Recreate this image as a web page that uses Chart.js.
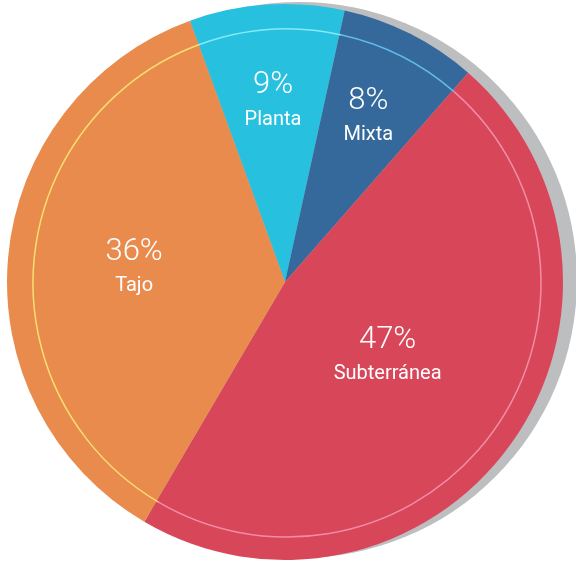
<!DOCTYPE html>
<html>
<head>
<meta charset="utf-8">
<script src="https://cdn.jsdelivr.net/npm/chart.js@4"></script>
<style>
    html, body { margin: 0; padding: 0; background: #FFFFFF; }
    #pieChart { display: block; }
</style>
</head>
<body>
<canvas id="pieChart" width="576" height="562"></canvas>
<script>
// datos
const categories = ['Planta', 'Mixta', 'Subterránea', 'Tajo'];
const shares = [9, 8, 47, 36];

// estilos
const sliceColors = ['#27C0DE', '#35689B', '#D8465A', '#E98B4D'];
const ringColors = ['#86E9FA', '#62BCEB', '#F28DA6', '#F7DF70'];
const labelDistance = [0.65, 0.665, 0.455, 0.545];

// sombra gris desplazada detrás del pastel
const shadowPlugin = {
    id: 'shadowCircle',
    beforeDatasetsDraw(chart) {
        const arc = chart.getDatasetMeta(0).data[0];
        if (!arc) return;
        const ctx = chart.ctx;
        ctx.save();
        ctx.fillStyle = '#BDBEC0';
        ctx.beginPath();
        ctx.arc(arc.x + 14, arc.y - 2, arc.outerRadius, 0, Math.PI * 2);
        ctx.fill();
        ctx.restore();
    }
};

// anillo interior fino y etiquetas
const ringAndLabels = {
    id: 'ringAndLabels',
    afterDatasetsDraw(chart) {
        const ctx = chart.ctx;
        const meta = chart.getDatasetMeta(0);
        meta.data.forEach((arc, i) => {
            ctx.save();
            ctx.strokeStyle = ringColors[i];
            ctx.lineWidth = 1.5;
            ctx.beginPath();
            ctx.arc(arc.x + 2, arc.y + 1, arc.outerRadius - 24, arc.startAngle, arc.endAngle);
            ctx.stroke();

            const mid = (arc.startAngle + arc.endAngle) / 2;
            const d = arc.outerRadius * labelDistance[i];
            const lx = arc.x + Math.cos(mid) * d;
            const ly = arc.y + Math.sin(mid) * d;
            ctx.fillStyle = '#FFFFFF';
            ctx.textAlign = 'center';
            ctx.textBaseline = 'middle';
            ctx.font = '300 31px Roboto, "Open Sans", sans-serif';
            ctx.fillText(shares[i] + '%', lx, ly - 16);
            ctx.font = '400 20px Roboto, "Open Sans", sans-serif';
            ctx.fillText(categories[i], lx, ly + 18);
            ctx.restore();
        });
    }
};

new Chart(document.getElementById('pieChart').getContext('2d'), {
    type: 'pie',
    data: {
        labels: categories,
        datasets: [{
            data: shares,
            backgroundColor: sliceColors,
            borderWidth: 0
        }]
    },
    options: {
        responsive: false,
        animation: false,
        rotation: -20,
        layout: {
            padding: { top: 4, bottom: 2, left: 0, right: 6 }
        },
        plugins: {
            legend: { display: false },
            tooltip: { enabled: false }
        }
    },
    plugins: [shadowPlugin, ringAndLabels]
});
</script>
</body>
</html>
